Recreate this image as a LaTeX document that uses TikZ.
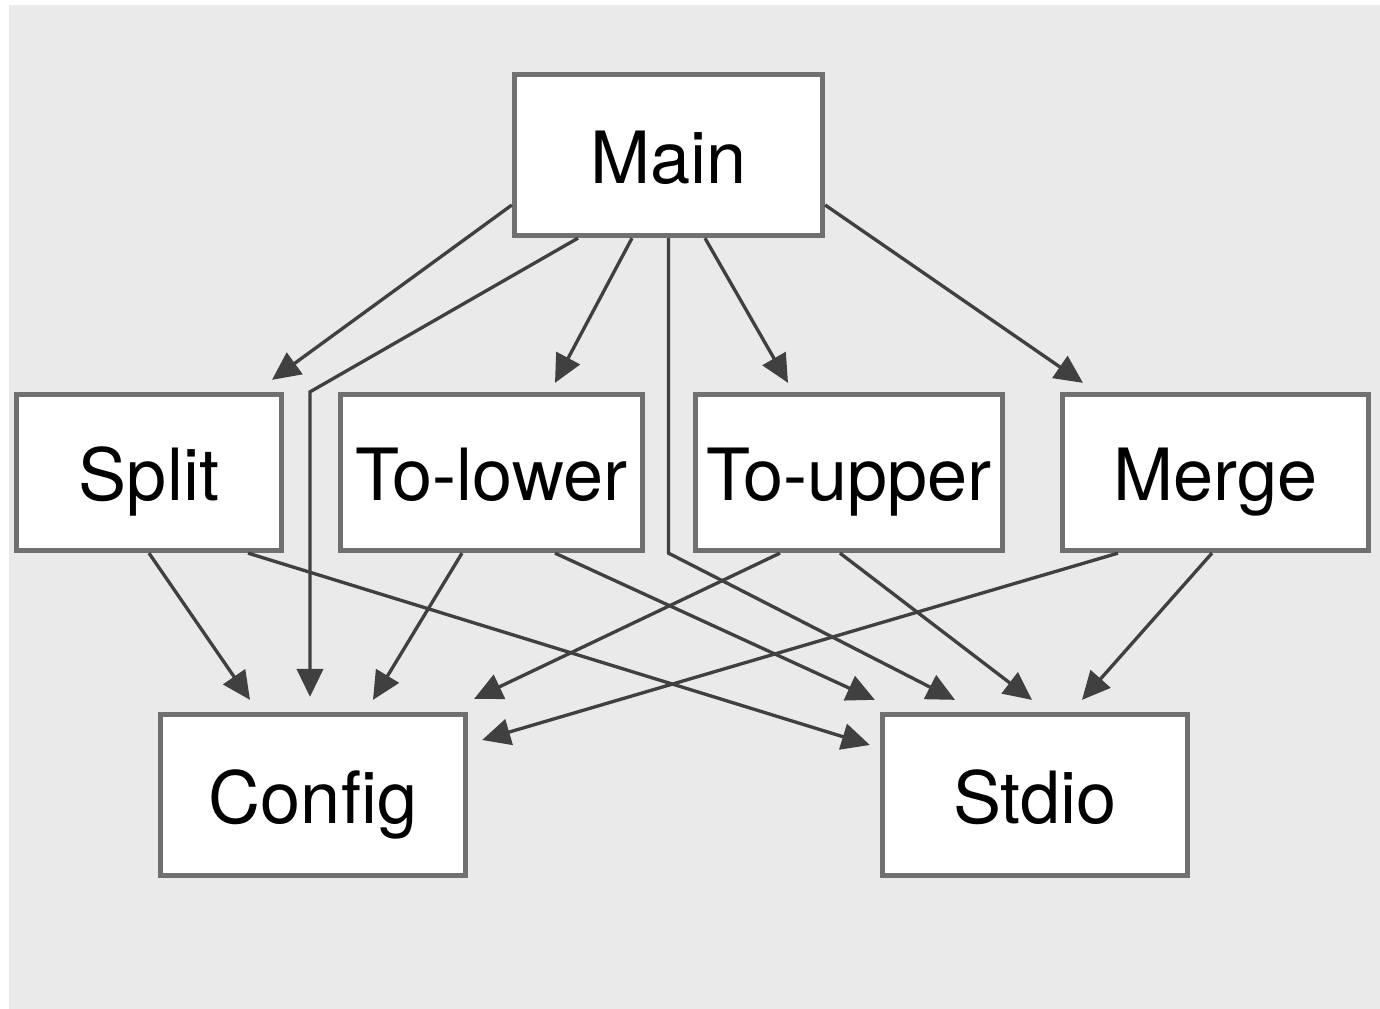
\documentclass[tikz,border=0pt]{standalone}
\usepackage{fontspec}
\setmainfont{TeX Gyre Heros}
\usetikzlibrary{arrows.meta}
\definecolor{paperclr}{HTML}{EAEAEA}
\definecolor{frameclr}{HTML}{707070}
\definecolor{edgeclr}{HTML}{404040}

\begin{document}
\begin{tikzpicture}[x=0.1mm, y=-0.1mm,
  modbox/.style={draw=frameclr, fill=white, line width=1.5pt, inner sep=0pt,
                 text height=16.5pt, text depth=0.5pt,
                 font=\fontsize{20.5}{24}\selectfont},
  dep/.style={edgeclr, line width=0.95pt, -{Triangle[length=8pt, width=7.5pt]}}]

% --- canvas ---------------------------------------------------------------
\useasboundingbox (0,0) rectangle (1380,1009);
\fill[paperclr] (9,5) rectangle (1380,1009);

% --- modules --------------------------------------------------------------
\node[modbox, minimum width=3.08cm, minimum height=1.61cm] (main)    at (668.5,155) {Main};
\node[modbox, minimum width=2.65cm, minimum height=1.56cm] (split)   at (149,472.5) {Split};
\node[modbox, minimum width=3.02cm, minimum height=1.56cm] (tolower) at (491.5,472.5) {To-lower};
\node[modbox, minimum width=3.07cm, minimum height=1.56cm] (toupper) at (849,472.5) {To-upper};
\node[modbox, minimum width=3.06cm, minimum height=1.56cm] (merge)   at (1215.5,472.5) {Merge};
\node[modbox, minimum width=3.05cm, minimum height=1.61cm] (config)  at (313,795) {Config};
\node[modbox, minimum width=3.05cm, minimum height=1.61cm] (stdio)   at (1035,795) {Stdio};

% where the two bent edges run straight down
\coordinate (cfgtip) at ([xshift=-0.03cm, yshift=0.15cm]config.north);

% --- Main uses everything -------------------------------------------------
\draw[dep] ([yshift=-0.5cm]main.west) -- ([xshift=1.23cm, yshift=0.12cm]split.north);
\draw[dep] ([xshift=-0.365cm]main.south) -- ([xshift=0.635cm, yshift=0.09cm]tolower.north);
\draw[dep] ([xshift=0.365cm]main.south) -- ([xshift=-0.61cm, yshift=0.09cm]toupper.north);
\draw[dep] ([yshift=-0.5cm]main.east) -- ([xshift=-1.325cm, yshift=0.09cm]merge.north);
\draw[dep] ([xshift=-0.905cm]main.south) -- (cfgtip |- split.north) -- (cfgtip);
\draw[dep] (main.south) -- (main.south |- split.south)
  -- ([xshift=-0.8cm, yshift=0.12cm]stdio.north);

% --- the four filters use Config and Stdio --------------------------------
\draw[dep] (split.south) -- ([xshift=-0.63cm, yshift=0.12cm]config.north);
\draw[dep] ([xshift=0.99cm]split.south) -- ([xshift=-0.1cm, yshift=0.5cm]stdio.west);
\draw[dep] ([xshift=-0.295cm]tolower.south) -- ([xshift=0.6cm, yshift=0.12cm]config.north);
\draw[dep] ([xshift=0.635cm]tolower.south) -- ([xshift=-0.05cm, yshift=0.12cm]stdio.north west);
\draw[dep] ([xshift=-0.69cm]toupper.south) -- ([xshift=0.06cm, yshift=0.13cm]config.north east);
\draw[dep] ([xshift=-0.09cm]toupper.south) -- ([xshift=-0.03cm, yshift=0.12cm]stdio.north);
\draw[dep] ([xshift=-0.975cm]merge.south) -- ([xshift=0.14cm, yshift=0.55cm]config.east);
\draw[dep] ([xshift=-0.035cm]merge.south) -- ([xshift=0.47cm, yshift=0.12cm]stdio.north);

\end{tikzpicture}
\end{document}
